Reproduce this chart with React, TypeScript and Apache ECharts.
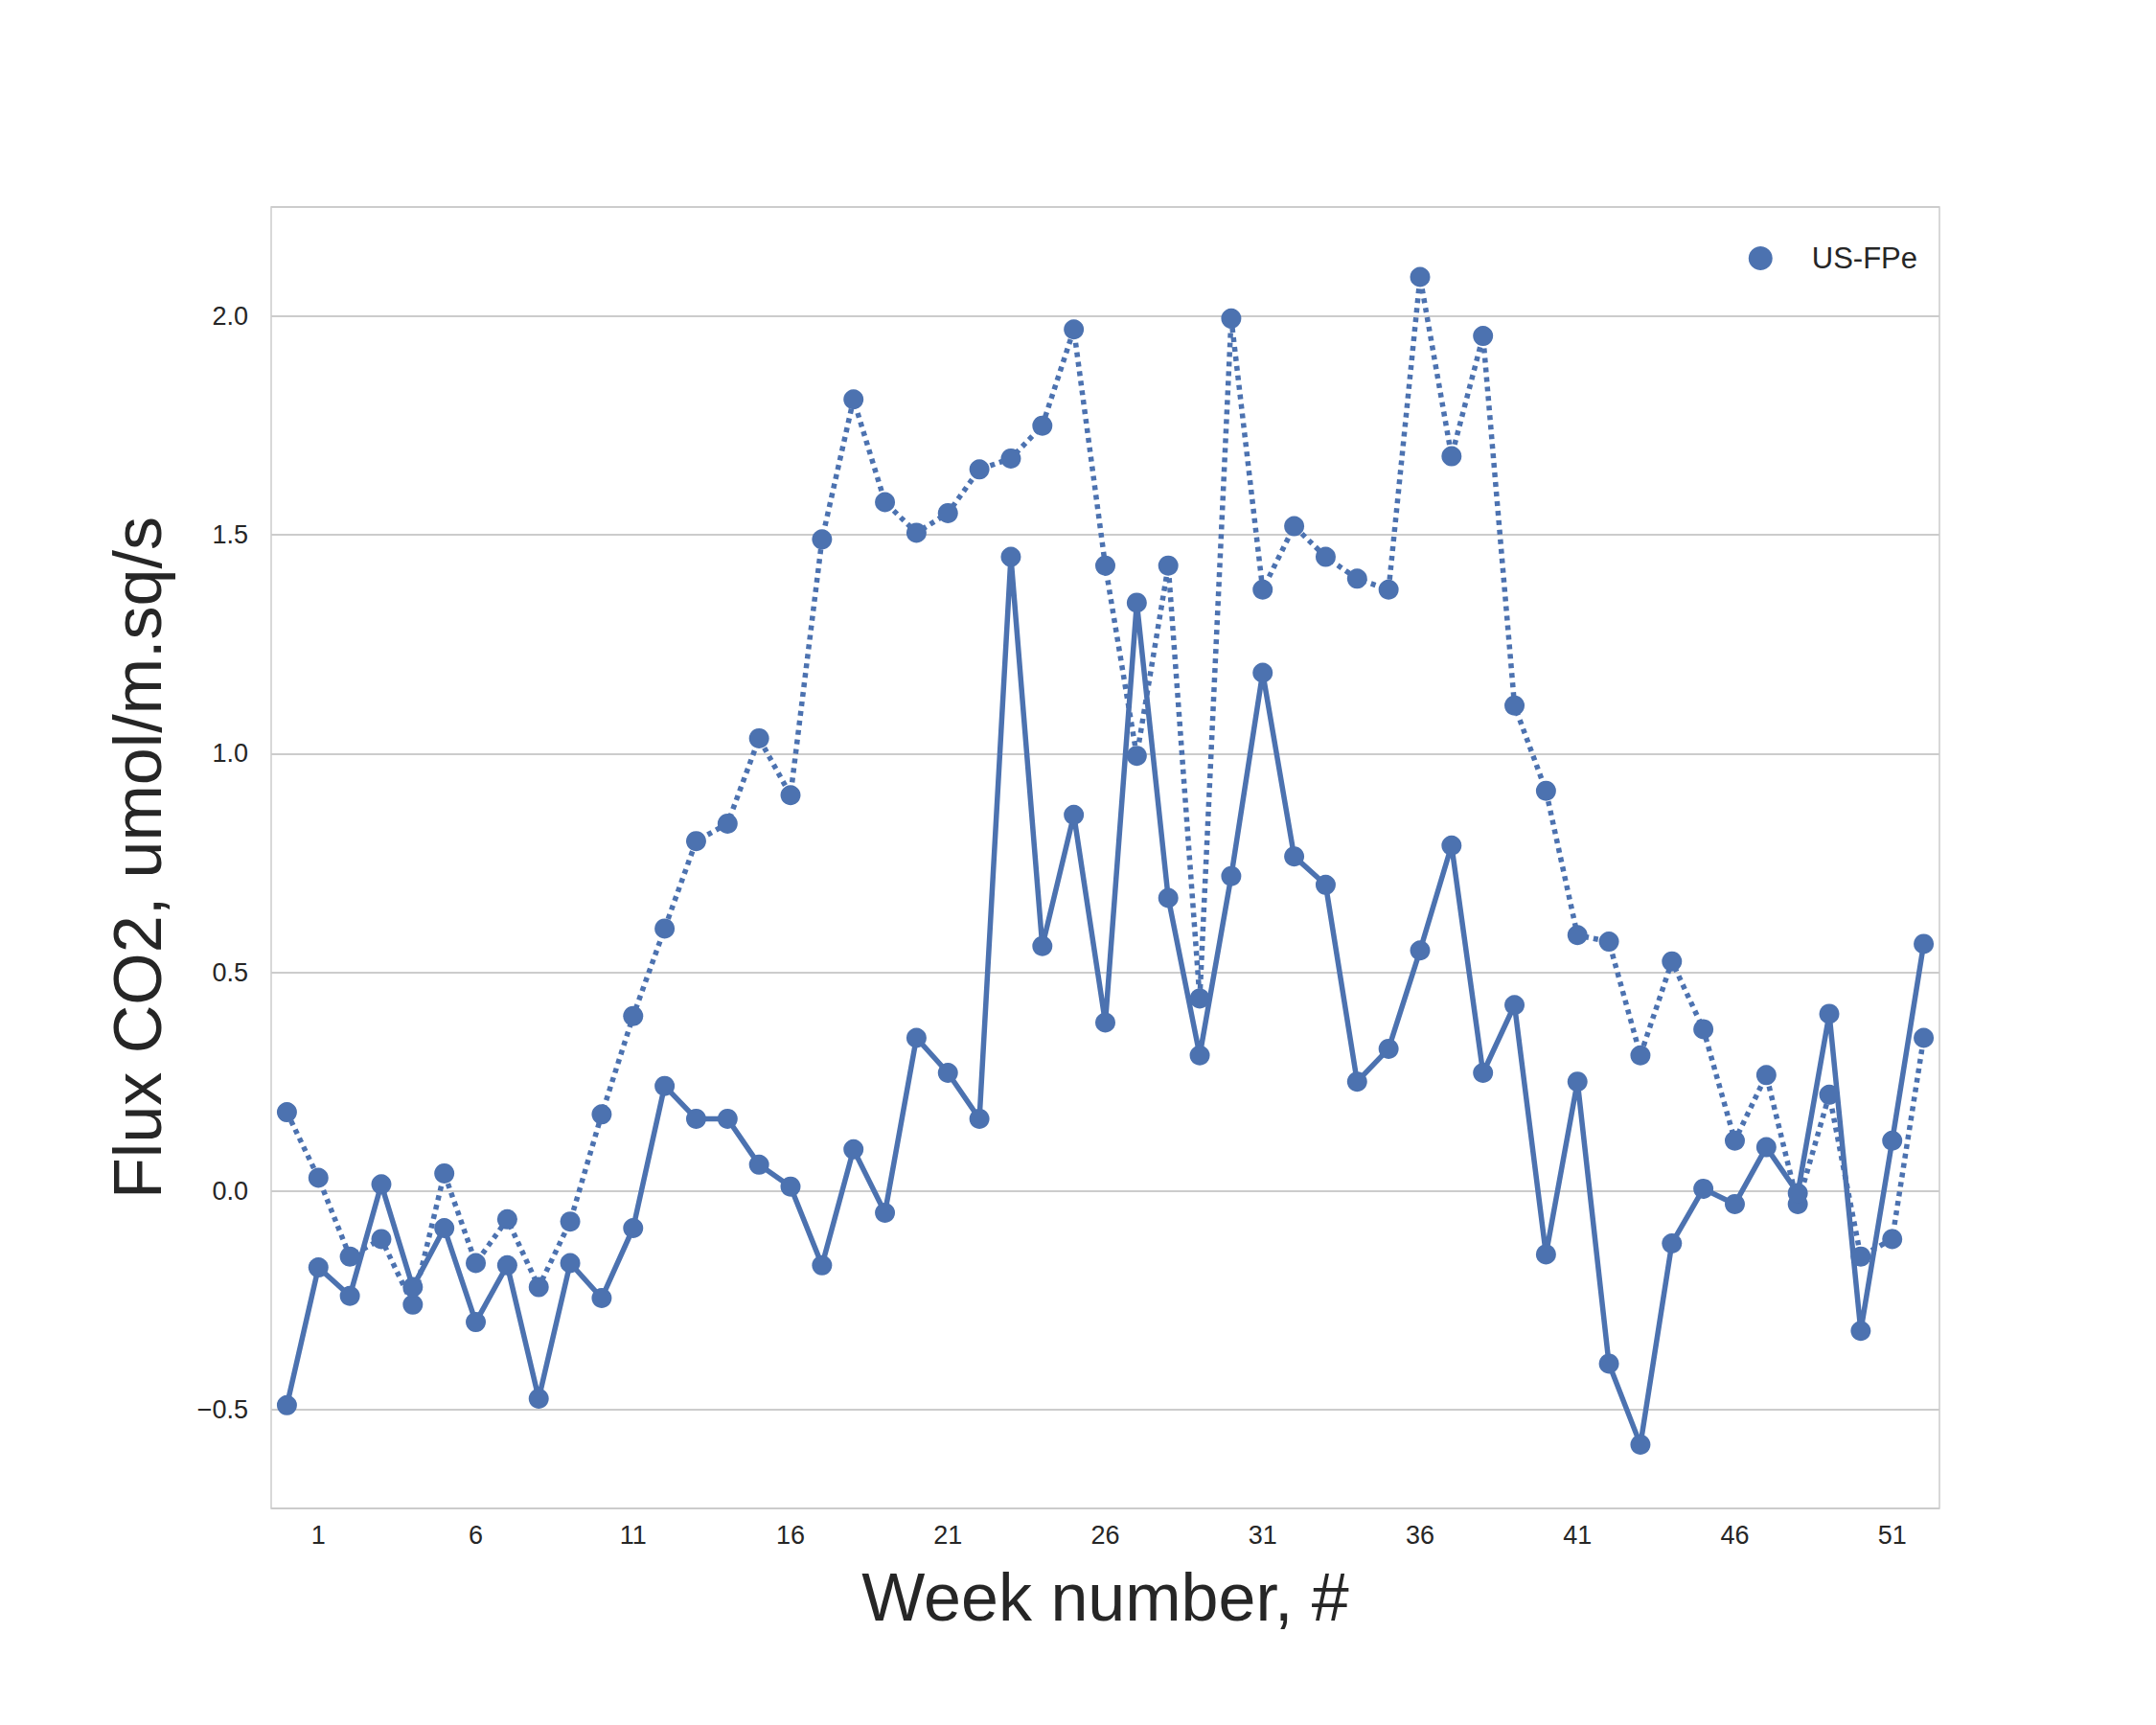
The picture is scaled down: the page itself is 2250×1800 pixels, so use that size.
import React, { useEffect, useRef } from "react";
import * as echarts from "echarts";

const weeks = Array.from({ length: 53 }, (_, i) => String(i));
const dottedValues = [0.18,0.03,-0.15,-0.11,-0.26,0.04,-0.165,-0.065,-0.22,-0.07,0.175,0.4,0.6,0.8,0.84,1.035,0.905,1.49,1.81,1.575,1.505,1.55,1.65,1.675,1.75,1.97,1.43,0.995,1.43,0.44,1.995,1.375,1.52,1.45,1.4,1.375,2.09,1.68,1.955,1.11,0.915,0.585,0.57,0.31,0.525,0.37,0.115,0.265,-0.03,0.22,-0.15,-0.11,0.35];
const solidValues = [-0.49,-0.175,-0.24,0.015,-0.22,-0.085,-0.3,-0.17,-0.475,-0.165,-0.245,-0.085,0.24,0.165,0.165,0.06,0.01,-0.17,0.095,-0.05,0.35,0.27,0.165,1.45,0.56,0.86,0.385,1.345,0.67,0.31,0.72,1.185,0.765,0.7,0.25,0.325,0.55,0.79,0.27,0.425,-0.145,0.25,-0.395,-0.58,-0.12,0.005,-0.03,0.1,-0.005,0.405,-0.32,0.115,0.565];

const C = "#4c72b0";
const FONT = "Liberation Sans";

export default function App() {
  const ref = useRef<HTMLDivElement>(null);
  useEffect(() => {
    const chart = echarts.init(ref.current!, null, { renderer: "svg" });
    chart.setOption({
      animation: false,
      backgroundColor: "#fff",
      textStyle: { fontFamily: FONT },
      grid: { left: 275, right: 218, top: 208, bottom: 218, show: true, borderColor: "#cccccc", borderWidth: 1.5, backgroundColor: "#fff" },
      legend: {
        data: ["US-FPe"], right: 236, top: 241, icon: "circle", itemWidth: 25, itemHeight: 25,
        textStyle: { fontSize: 31, color: "#262626", fontFamily: FONT, padding: [0, 0, 0, 36] },
      },
      xAxis: {
        type: "category", data: weeks, boundaryGap: true,
        name: "Week number, #", nameLocation: "middle", nameGap: 58,
        nameTextStyle: { fontSize: 70, color: "#262626", fontFamily: FONT },
        axisLine: { show: false }, axisTick: { show: false },
        axisLabel: { interval: (i: number) => i % 5 === 1, fontSize: 27, color: "#262626", margin: 14 },
        splitLine: { show: false },
      },
      yAxis: {
        type: "value", min: -0.726, max: 2.25, splitNumber: 6,
        name: "Flux CO2, umol/m.sq/s", nameLocation: "middle", nameGap: 104,
        nameTextStyle: { fontSize: 70, color: "#262626", fontFamily: FONT },
        axisLine: { show: false }, axisTick: { show: false },
        axisLabel: {
          showMinLabel: false, showMaxLabel: false, fontSize: 27, color: "#262626", margin: 24,
          formatter: (v: number) => (v < 0 ? "\u2212" : "") + Math.abs(v).toFixed(1),
        },
        splitLine: { lineStyle: { color: "#cccccc", width: 2 } },
      },
      series: [
        { name: "US-FPe", type: "line", data: dottedValues, symbol: "circle", symbolSize: 21,
          lineStyle: { color: C, width: 5.5, type: [5, 5] }, itemStyle: { color: C } },
        { name: "US-FPe", type: "line", data: solidValues, symbol: "circle", symbolSize: 21,
          lineStyle: { color: C, width: 5.5 }, itemStyle: { color: C } },
      ],
    });
    return () => chart.dispose();
  }, []);
  return <div ref={ref} style={{ width: 2234, height: 1784 }} />;
}
